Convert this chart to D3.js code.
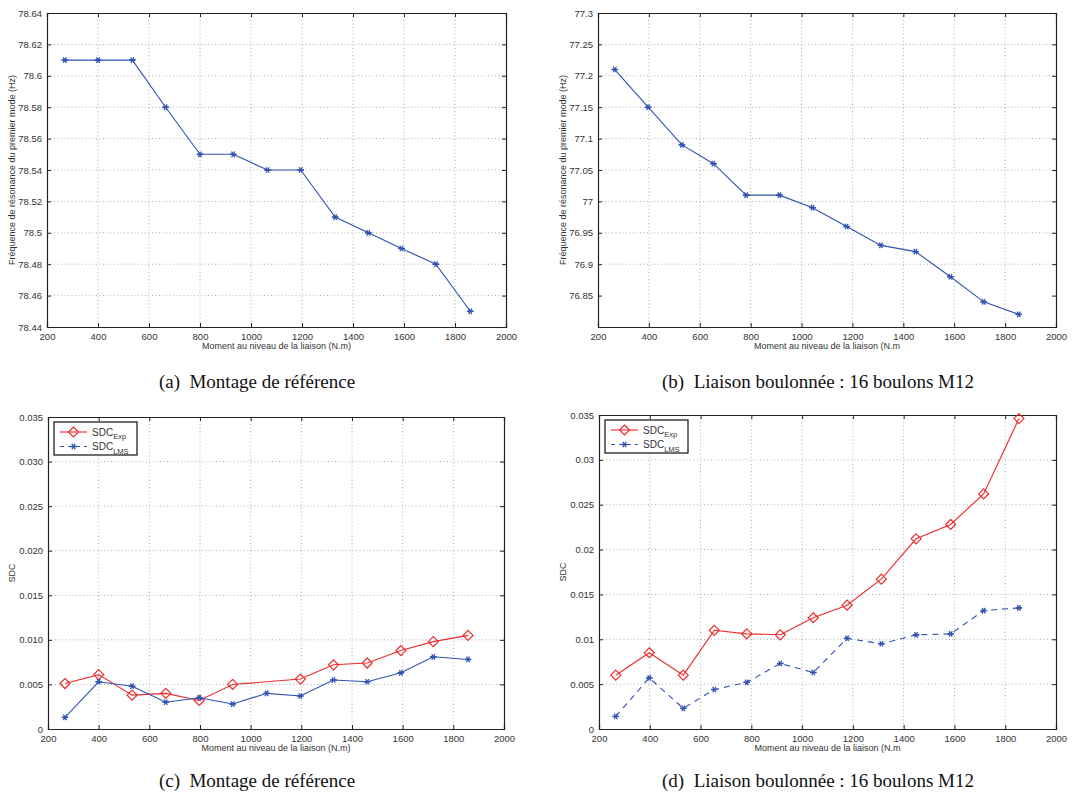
<!DOCTYPE html>
<html>
<head>
<meta charset="utf-8">
<script src="https://cdn.jsdelivr.net/npm/d3@7"></script>
<style>
  body { margin: 0; background: #fff; }
  svg text { font-family: "Liberation Sans", Arial, sans-serif; fill: #333; }
  .caption { font-family: "Liberation Serif", "Times New Roman", serif; fill: #111; white-space: pre; }
</style>
</head>
<body>
<svg id="fig" width="1091" height="798"></svg>
<script>
// x positions (couple de serrage, N.m)
var momentA = [270, 400, 535, 665, 800, 930, 1065, 1195, 1330, 1460, 1590, 1725, 1860];
var momentB = [266, 397, 530, 654, 782, 913, 1043, 1177, 1312, 1448, 1585, 1716, 1854];
var momentC = [267, 400, 532, 665, 797, 929, 1063, 1196, 1327, 1460, 1593, 1721, 1858];
var momentD = [266, 398, 532, 654, 782, 914, 1044, 1177, 1312, 1449, 1585, 1715, 1854];

// (a) frequence - montage de reference
var freqA = [78.61, 78.61, 78.61, 78.58, 78.55, 78.55, 78.54, 78.54, 78.51, 78.50, 78.49, 78.48, 78.45];
// (b) frequence - liaison boulonnee
var freqB = [77.21, 77.15, 77.09, 77.06, 77.01, 77.01, 76.99, 76.96, 76.93, 76.92, 76.88, 76.84, 76.82];

// (c) SDC montage de reference (Exp has no point at ~1063)
var sdcExpC = [0.0051, 0.0061, 0.0038, 0.0040, 0.0032, 0.0050, null, 0.0056, 0.0072, 0.0074, 0.0088, 0.0098, 0.0105];
var sdcLmsC = [0.0013, 0.0053, 0.0048, 0.0030, 0.0035, 0.0028, 0.0040, 0.0037, 0.0055, 0.0053, 0.0063, 0.0081, 0.0078];
// (d) SDC liaison boulonnee
var sdcExpD = [0.0060, 0.0085, 0.0060, 0.0110, 0.0106, 0.0105, 0.0124, 0.0138, 0.0167, 0.0212, 0.0228, 0.0262, 0.0346];
var sdcLmsD = [0.0014, 0.0057, 0.0023, 0.0044, 0.0052, 0.0073, 0.0063, 0.0101, 0.0095, 0.0105, 0.0106, 0.0132, 0.0135];

var xTicks = [200, 400, 600, 800, 1000, 1200, 1400, 1600, 1800, 2000];
var yTicksA = [78.44, 78.46, 78.48, 78.5, 78.52, 78.54, 78.56, 78.58, 78.6, 78.62, 78.64];
var yTicksB = [76.85, 76.9, 76.95, 77, 77.05, 77.1, 77.15, 77.2, 77.25, 77.3];
var yTicksSdc = [0, 0.005, 0.01, 0.015, 0.02, 0.025, 0.03, 0.035];

var captions = ["(a)  Montage de référence", "(b)  Liaison boulonnée : 16 boulons M12",
                "(c)  Montage de référence", "(d)  Liaison boulonnée : 16 boulons M12"];

var blue = "#2f52b4", red = "#ee2b2b";
var svg = d3.select("#fig");

function asterisk(g, x, y, color) {
  var r = 3.2;
  [0, 60, 120].forEach(function(a) {
    var dx = r * Math.cos(a * Math.PI / 180), dy = r * Math.sin(a * Math.PI / 180);
    g.append("line").attr("x1", x - dx).attr("y1", y - dy).attr("x2", x + dx).attr("y2", y + dy)
      .attr("stroke", color).attr("stroke-width", 1.3);
  });
  g.append("line").attr("x1", x - r).attr("y1", y).attr("x2", x + r).attr("y2", y)
    .attr("stroke", color).attr("stroke-width", 1.3);
}
function diamond(g, x, y, color) {
  var r = 5;
  g.append("path").attr("d", "M" + x + "," + (y - r) + "L" + (x + r) + "," + y + "L" + x + "," + (y + r) + "L" + (x - r) + "," + y + "Z")
    .attr("fill", "none").attr("stroke", color).attr("stroke-width", 1.2);
}

function drawPanel(p) {
  var g = svg.append("g");
  var x = d3.scaleLinear().domain([200, 2000]).range([p.left, p.right]);
  var y = d3.scaleLinear().domain(p.yDomain).range([p.bottom, p.top]);

  // grid
  g.selectAll(null).data(xTicks.slice(1, -1)).enter().append("line")
    .attr("x1", d => x(d)).attr("x2", d => x(d)).attr("y1", p.top).attr("y2", p.bottom)
    .attr("stroke", "#999").attr("stroke-width", 0.8).attr("stroke-dasharray", "1,2.5");
  g.selectAll(null).data(p.yTicks.slice(1, -1)).enter().append("line")
    .attr("y1", d => y(d)).attr("y2", d => y(d)).attr("x1", p.left).attr("x2", p.right)
    .attr("stroke", "#999").attr("stroke-width", 0.8).attr("stroke-dasharray", "1,2.5");

  // axes (ticks inward, mirrored on top/right)
  var tl = 4;
  g.append("g").attr("transform", "translate(0," + p.bottom + ")")
    .call(d3.axisBottom(x).tickValues(xTicks).tickSize(-tl).tickPadding(6).tickFormat(d3.format("d")));
  g.append("g").attr("transform", "translate(0," + p.top + ")")
    .call(d3.axisTop(x).tickValues(xTicks).tickSize(-tl).tickFormat(""));
  g.append("g").attr("transform", "translate(" + p.left + ",0)")
    .call(d3.axisLeft(y).tickValues(p.yTicks).tickSize(-tl).tickPadding(5).tickFormat(p.fmt));
  g.append("g").attr("transform", "translate(" + p.right + ",0)")
    .call(d3.axisRight(y).tickValues(p.yTicks).tickSize(-tl).tickFormat(""));
  g.selectAll(".domain").attr("stroke", "#222").attr("stroke-width", 1.2);
  g.selectAll(".tick line").attr("stroke", "#222");
  g.selectAll(".tick text").attr("font-size", 9.5).attr("fill", "#333")
    .style("font-family", "'Liberation Sans', Arial, sans-serif");

  // labels
  g.append("text").attr("x", (p.left + p.right) / 2).attr("y", p.bottom + 22)
    .attr("text-anchor", "middle").attr("font-size", 9).text(p.xLabel);
  g.append("text").attr("transform", "translate(" + p.yLabelX + "," + ((p.top + p.bottom) / 2) + ") rotate(-90)")
    .attr("text-anchor", "middle").attr("font-size", 9).text(p.yLabel);

  // series
  p.series.forEach(function(s) {
    var pts = p.xs.map((d, i) => [d, s.values[i]]).filter(d => d[1] != null);
    g.append("path").datum(pts)
      .attr("d", d3.line().x(d => x(d[0])).y(d => y(d[1])))
      .attr("fill", "none").attr("stroke", s.color).attr("stroke-width", 1.1)
      .attr("stroke-dasharray", s.dash || null);
    pts.forEach(function(d) {
      if (s.marker === "diamond") diamond(g, x(d[0]), y(d[1]), s.color);
      else asterisk(g, x(d[0]), y(d[1]), s.color);
    });
  });

  // legend
  if (p.legend) {
    var lx = p.left + 6, ly = p.top + 5;
    g.append("rect").attr("x", lx).attr("y", ly).attr("width", 83).attr("height", 33)
      .attr("fill", "#fff").attr("stroke", "#222").attr("stroke-width", 1.3);
    p.series.forEach(function(s, i) {
      var yy = ly + 10 + i * 14.5;
      g.append("line").attr("x1", lx + 6).attr("x2", lx + 33).attr("y1", yy).attr("y2", yy)
        .attr("stroke", s.color).attr("stroke-width", 1.1).attr("stroke-dasharray", s.legendDash || null);
      if (s.marker === "diamond") diamond(g, lx + 19.5, yy, s.color); else asterisk(g, lx + 19.5, yy, s.color);
      var t = g.append("text").attr("x", lx + 38).attr("y", yy + 3.5).attr("font-size", 10);
      t.append("tspan").text("SDC");
      t.append("tspan").attr("dy", 3.5).attr("font-size", 7.5).text(s.sub);
    });
  }

  svg.append("text").attr("class", "caption").attr("x", p.capX).attr("y", p.capY)
    .attr("text-anchor", "middle").attr("font-size", 19).text(p.caption);
}

var fmt2 = d => d3.format(".2f")(d).replace(/0$/, "").replace(/\.$/, "");
drawPanel({ left: 47, right: 506, top: 13, bottom: 327, yDomain: [78.44, 78.64], yTicks: yTicksA,
  fmt: fmt2, xs: momentA, xLabel: "Moment au niveau de la liaison (N.m)",
  yLabel: "Fréquence de résonance du premier mode (Hz)", yLabelX: 15,
  series: [{ values: freqA, color: blue, marker: "star" }], caption: captions[0], capX: 257, capY: 388 });

drawPanel({ left: 598, right: 1056, top: 13, bottom: 327, yDomain: [76.8, 77.3], yTicks: yTicksB,
  fmt: d => d3.format(".2f")(d).replace(/0+$/, "").replace(/\.$/, ""), xs: momentB,
  xLabel: "Moment au niveau de la liaison (N.m",
  yLabel: "Fréquence de résonance du premier mode (Hz)", yLabelX: 566,
  series: [{ values: freqB, color: blue, marker: "star" }], caption: captions[1], capX: 818, capY: 388 });

drawPanel({ left: 48, right: 504, top: 417, bottom: 729, yDomain: [0, 0.035], yTicks: yTicksSdc,
  fmt: d => d === 0 ? "0" : d3.format(".3f")(d), xs: momentC, xLabel: "Moment au niveau de la liaison (N.m)",
  yLabel: "SDC", yLabelX: 15, legend: true,
  series: [{ values: sdcExpC, color: red, marker: "diamond", sub: "Exp" },
           { values: sdcLmsC, color: blue, marker: "star", sub: "LMS", legendDash: "4,4" }],
  caption: captions[2], capX: 257, capY: 787 });

drawPanel({ left: 599, right: 1056, top: 415, bottom: 729, yDomain: [0, 0.035], yTicks: yTicksSdc,
  fmt: d => d === 0 ? "0" : d3.format(".3f")(d).replace(/0+$/, ""), xs: momentD,
  xLabel: "Moment au niveau de la liaison (N.m",
  yLabel: "SDC", yLabelX: 566, legend: true,
  series: [{ values: sdcExpD, color: red, marker: "diamond", sub: "Exp" },
           { values: sdcLmsD, color: blue, marker: "star", sub: "LMS", dash: "6,5", legendDash: "4,4" }],
  caption: captions[3], capX: 818, capY: 787 });
</script>
</body>
</html>
